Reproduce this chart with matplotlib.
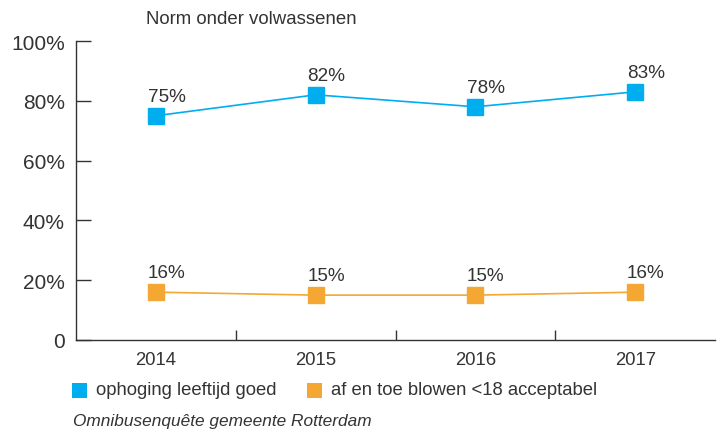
import matplotlib
matplotlib.use("Agg")
import matplotlib.pyplot as plt
from matplotlib.patches import Rectangle

plt.rcParams['font.family'] = ['Liberation Sans', 'DejaVu Sans']

years = ["2014", "2015", "2016", "2017"]
leeftijd = [75, 82, 78, 83]
blowen = [16, 15, 15, 16]
ytick_vals = [0, 20, 40, 60, 80, 100]
ytick_labels = ["0", "20%", "40%", "60%", "80%", "100%"]
legend_labels = ["ophoging leeftijd goed", "af en toe blowen <18 acceptabel"]

blue = "#00AEEF"
orange = "#F5A733"
dark = "#333333"

W, H = 726, 431
fig = plt.figure(figsize=(W / 100, H / 100), dpi=100)
ax = fig.add_axes([76/W, 90/H, 639/W, 299/H])

x = range(len(years))
for vals, col in [(leeftijd, blue), (blowen, orange)]:
    ax.plot(x, vals, color=col, lw=1.2, marker='s', markersize=12, zorder=3)
    for xi, v in zip(x, vals):
        ax.annotate(f"{v}%", (xi, v), xytext=(-6, 8), textcoords='offset points',
                    ha='left', va='bottom', fontsize=13.6, color=dark)

ax.set_xlim(-0.5, 3.5)
ax.set_ylim(0, 100)
ax.set_yticks(ytick_vals)
ax.set_yticklabels(ytick_labels, fontsize=15, color=dark)
ax.set_xticks(list(x))
ax.set_xticklabels(years, fontsize=13.3, color=dark)
ax.set_xticks([0.5, 1.5, 2.5], minor=True)
ax.tick_params(axis='y', direction='in', length=11, width=1, color=dark, pad=8)
ax.tick_params(axis='x', which='major', length=0, pad=8)
ax.tick_params(axis='x', which='minor', direction='in', length=7, width=1, color=dark)

for s in ['top', 'right']:
    ax.spines[s].set_visible(False)
for s in ['left', 'bottom']:
    ax.spines[s].set_color(dark)
    ax.spines[s].set_linewidth(1)

fig.text(146/W, 1 - 20/H, "Norm onder volwassenen", fontsize=13.4, color=dark, va='center')

# legend drawn by hand
leg_x = [72, 307]
for lx, col, lab in zip(leg_x, [blue, orange], legend_labels):
    fig.patches.append(Rectangle((lx/W, 1 - 399/H), 15/W, 15/H, transform=fig.transFigure,
                                 facecolor=col, edgecolor='none'))
    fig.text((lx + 24)/W, 1 - 391/H, lab, fontsize=13.3, color=dark, va='center')

fig.text(73/W, 1 - 422/H, "Omnibusenquête gemeente Rotterdam", fontsize=12.4,
         style='italic', color=dark, va='center')

fig.savefig("out.png", dpi=100)
